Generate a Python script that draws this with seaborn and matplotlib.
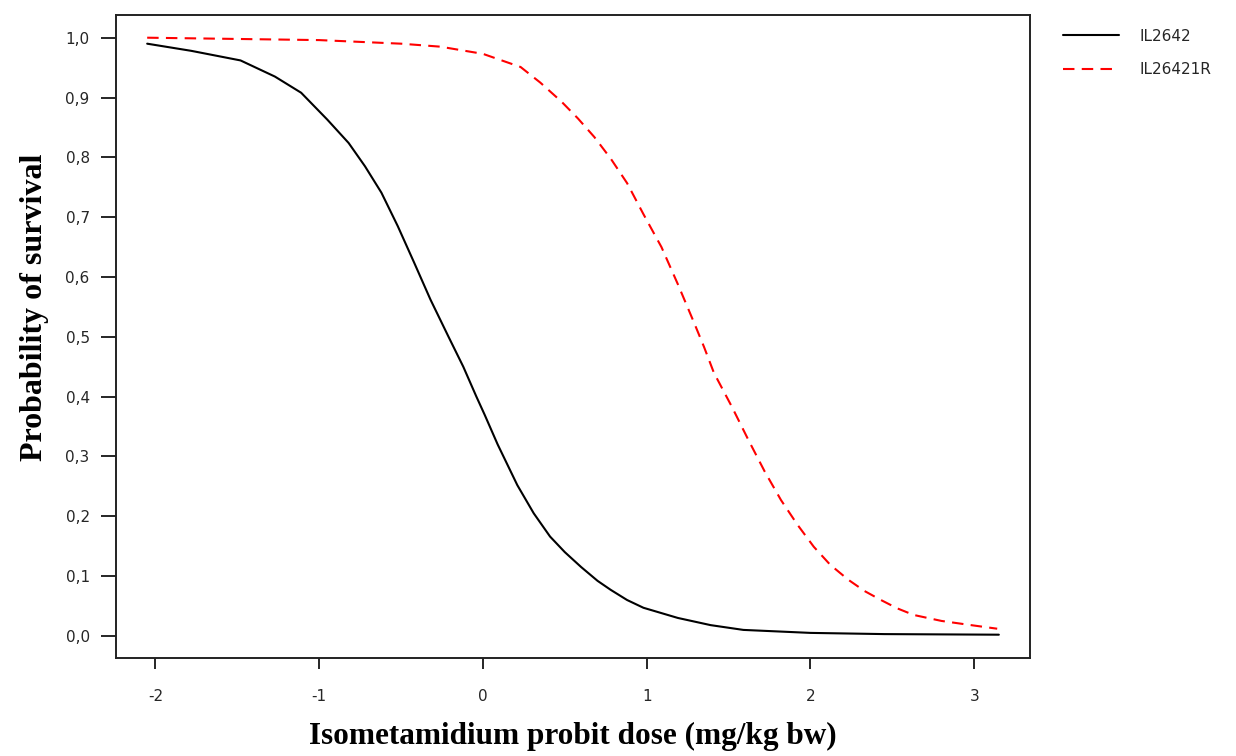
import pandas as pd
import seaborn as sns
from matplotlib import pyplot as plt
from matplotlib.ticker import FuncFormatter

# survival curves
dose_il2642 = [-2.05, -1.78, -1.48, -1.27, -1.11, -0.95, -0.82, -0.72, -0.62, -0.52,
               -0.42, -0.32, -0.21, -0.12, -0.04, 0.01, 0.09, 0.21, 0.31, 0.41,
               0.50, 0.60, 0.70, 0.78, 0.88, 0.98, 1.19, 1.39, 1.59, 2.0, 2.45, 3.15]
surv_il2642 = [0.990, 0.978, 0.962, 0.935, 0.908, 0.863, 0.824, 0.785, 0.741, 0.685,
               0.624, 0.562, 0.500, 0.450, 0.400, 0.370, 0.320, 0.252, 0.205, 0.166,
               0.140, 0.115, 0.092, 0.077, 0.060, 0.047, 0.030, 0.018, 0.010, 0.005, 0.003, 0.002]

dose_il26421r = [-2.05, -1.0, -0.5, -0.26, 0.0, 0.23, 0.35, 0.48, 0.58, 0.68, 0.78, 0.88,
                 0.98, 1.09, 1.19, 1.29, 1.35, 1.41, 1.52, 1.62, 1.72, 1.82, 1.92, 2.02,
                 2.12, 2.23, 2.33, 2.43, 2.53, 2.63, 2.8, 2.98, 3.14]
surv_il26421r = [1.000, 0.996, 0.990, 0.985, 0.973, 0.951, 0.925, 0.893, 0.865, 0.834, 0.798, 0.757,
                 0.705, 0.650, 0.588, 0.523, 0.483, 0.440, 0.383, 0.328, 0.275, 0.227, 0.186, 0.149,
                 0.119, 0.094, 0.075, 0.060, 0.046, 0.035, 0.025, 0.018, 0.012]

df = pd.concat([
    pd.DataFrame({"dose": dose_il2642, "surv": surv_il2642, "strain": "IL2642"}),
    pd.DataFrame({"dose": dose_il26421r, "surv": surv_il26421r, "strain": "IL26421R"}),
], ignore_index=True)

sns.set_style("ticks")
plt.rcParams["font.family"] = ["DejaVu Sans"]
plt.rcParams["axes.unicode_minus"] = False

fig = plt.figure(figsize=(12.36, 7.56), dpi=100)
ax = fig.add_axes([0.0939, 0.1296, 0.7394, 0.8506])

sns.lineplot(data=df, x="dose", y="surv", hue="strain", style="strain",
             palette={"IL2642": "black", "IL26421R": "red"},
             dashes={"IL2642": "", "IL26421R": (5.5, 3.5)},
             linewidth=1.5, ax=ax, sort=False)

ax.set_xlim(-2.24, 3.34)
ax.set_ylim(-0.037, 1.038)
ax.set_xticks([-2, -1, 0, 1, 2, 3])
ax.set_yticks([i / 10 for i in range(11)])
ax.yaxis.set_major_formatter(FuncFormatter(lambda v, p: f"{v:.1f}".replace(".", ",")))
ax.tick_params(axis="y", length=11, width=1.4, pad=8, labelsize=11)
ax.tick_params(axis="x", length=8, width=1.4, pad=14, labelsize=11)
for s in ax.spines.values():
    s.set_linewidth(1.4)
    s.set_color("#222222")

ax.set_xlabel("Isometamidium probit dose (mg/kg bw)", family="Liberation Serif",
              fontweight="bold", fontsize=22.5, labelpad=13, color="black")
ax.set_ylabel("Probability of survival", family="Liberation Serif",
              fontweight="bold", fontsize=23, color="black")
ax.yaxis.set_label_coords(-0.073, 0.546)

handles, labels = ax.get_legend_handles_labels()
ax.legend(handles, labels, loc="upper left", bbox_to_anchor=(1.021, 1.0), frameon=False,
          fontsize=11, handlelength=3.7, handletextpad=1.3, labelspacing=1.2)

fig.savefig("out.png", dpi=100)
